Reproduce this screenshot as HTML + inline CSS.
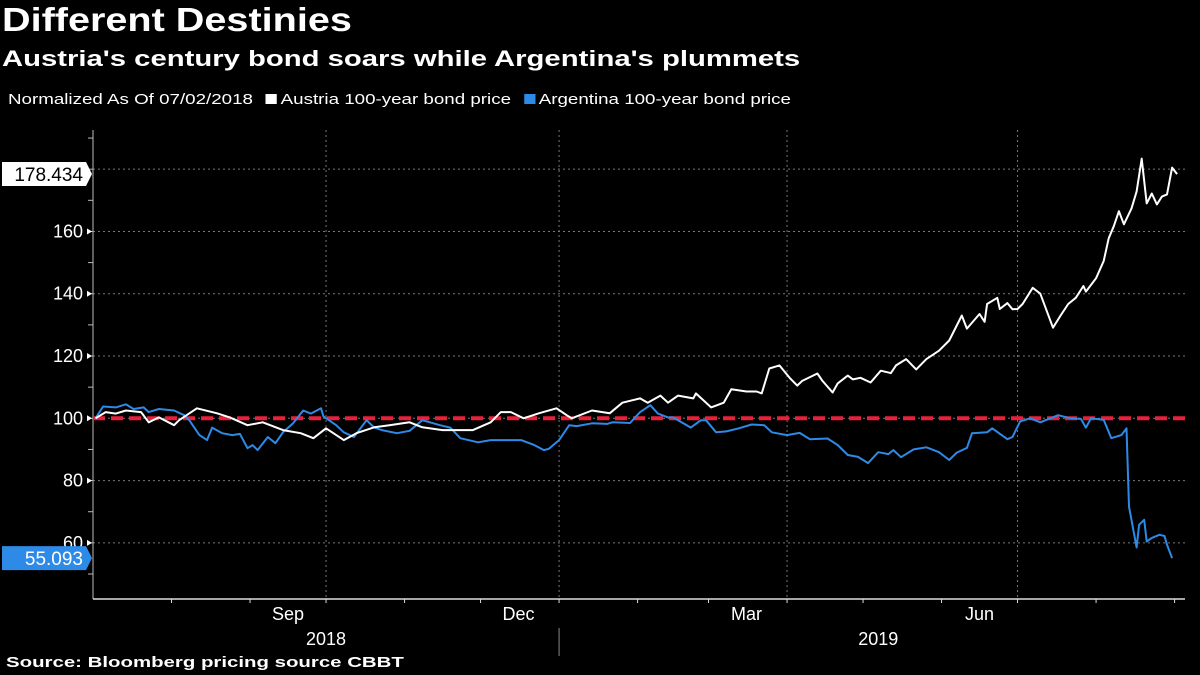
<!DOCTYPE html>
<html><head><meta charset="utf-8">
<style>
html,body{margin:0;padding:0;background:#000;}
body{width:1200px;height:675px;overflow:hidden;font-family:"Liberation Sans",sans-serif;color:#fff;position:relative;}
.t{position:absolute;white-space:nowrap;transform-origin:0 0;}
</style></head>
<body>
<div class="t" style="left:2px;top:1px;font-size:33px;font-weight:bold;transform:scaleX(1.2);">Different Destinies</div>
<div class="t" style="left:2px;top:46px;font-size:22px;font-weight:bold;transform:scaleX(1.33);">Austria's century bond soars while Argentina's plummets</div>
<div class="t" style="left:8px;top:91px;font-size:15px;transform:scaleX(1.25);">
<span>Normalized As Of 07/02/2018</span>
<span style="margin-left:6px;"><span style="display:inline-block;width:9px;height:10px;background:#fff;margin-right:3px;"></span>Austria 100-year bond price</span>
<span style="margin-left:6px;"><span style="display:inline-block;width:9px;height:10px;background:#2d8ae6;margin-right:3px;"></span>Argentina 100-year bond price</span>
</div>
<svg id="chart" width="1200" height="675" style="position:absolute;left:0;top:0;" xmlns="http://www.w3.org/2000/svg"></svg>
<div class="t" style="left:6px;top:654px;font-size:15px;font-weight:bold;transform:scaleX(1.36);">Source: Bloomberg pricing source CBBT</div>
<script>
// days since 2018-07-01
const austriaDays=[1,5,9,13,19,22,26,32,34,41,49,54,61,67,75,82,87,92,99,104,111,117,125,130,138,145,150,157,161,165,170,176,183,187,189,197,204,209,216,219,224,227,231,237,238,244,249,252,258,262,264,267,271,275,278,280,286,288,292,294,298,300,303,307,311,315,317,321,325,329,334,338,343,345,350,352,353,357,358,361,363,365,367,371,374,379,382,385,388,391,392,396,399,401,403,405,407,410,412,414,416,418,420,422,424,426,428];
const austriaVals=[100,102,101.5,102.5,102,98.7,100.3,97.8,99.4,103.2,101.6,100.3,97.8,98.7,96.2,95.2,93.6,96.8,93,95.2,97.1,97.8,98.7,97.1,96.2,96.2,96.2,98.7,102,102,100,101.6,103.2,101,100,102.5,101.6,105,106.4,105,107.3,105,107.3,106.4,108,103.5,105,109.3,108.6,108.6,108,116,117,113,110.5,112,114.4,112,108.3,111.2,113.7,112.5,113,111.5,115.3,114.5,117,119,115.7,119,121.7,125,133,128.8,133.5,131,136.7,138.7,135.1,137,135,135.1,136.7,141.9,140,129.1,133,136.7,138.7,142.5,140.7,145,150.5,157.8,161.7,166.5,162.3,167.4,172.8,183.4,169,172.2,168.7,171.2,171.9,180.5,178.434];
const argDays=[1,4,9,13,16,20,22,26,32,36,38,42,45,47,51,55,58,61,63,65,69,72,75,79,83,86,90,91,96,99,103,108,111,114,120,125,130,137,141,145,152,157,163,169,174,178,180,184,188,191,197,203,205,212,216,220,223,227,229,236,240,242,246,250,255,260,265,268,274,279,283,290,294,298,302,306,310,314,316,319,324,329,334,338,341,345,347,353,355,361,363,366,370,374,381,386,390,392,394,399,402,406,408,409,412,413,415,416,418,421,423,424,426,428];
const argVals=[100,103.8,103.5,104.5,103,103.5,102,103,102.5,101,99.4,94.6,93,97,95.2,94.6,95,90.4,91.4,89.8,94,92,95.5,98.4,102.5,101.5,103.2,100.6,97.8,95.5,94,99.4,97,96.2,95.2,96,99.4,97.8,97,93.6,92.3,93,93,93,91.5,89.8,90.2,93,97.8,97.5,98.4,98.2,98.7,98.5,102,104.2,101.5,100.3,100.3,97,99.4,99.4,95.5,95.8,96.8,98,97.8,95.5,94.6,95.3,93.3,93.5,91.4,88.2,87.6,85.6,89.1,88.5,89.8,87.5,90,90.7,89.1,86.6,89,90.5,95.2,95.5,96.8,93.3,94,99,100,98.7,101,100,99.8,97,100,99.5,93.6,94.6,96.8,71.6,58.5,65.8,67.4,60.4,61.6,62.6,62.2,59.4,55.093];
const yTicks=[60,80,100,120,140,160];
const gridVals=[60,80,100,120,140,160,180];
const monthStarts=[31,62,92,123,153,184,215,243,274,304,335,365,396,427];
const gridDays=[92,184,274,365];
const monthLabels=["Sep","Dec","Mar","Jun"];
const monthLabelDays=[77,168,258,350];
const yearLabels=["2018","2019"];
const yearLabelDays=[92,310];

const NS="http://www.w3.org/2000/svg";
const svg=document.getElementById('chart');
const X0=93, PXD=2.533, Y100=418.3, PXV=3.114, TOP=130, BOT=599, RIGHT=1185;
function xs(d){return X0+d*PXD;}
function ys(v){return Y100-(v-100)*PXV;}
function mk(tag,attrs){const e=document.createElementNS(NS,tag);for(const k in attrs)e.setAttribute(k,attrs[k]);svg.appendChild(e);return e;}

gridVals.forEach(v=>{
  const g=mk('line',{x1:X0,x2:RIGHT,y1:ys(v),y2:ys(v),stroke:'#777','stroke-width':1,'stroke-dasharray':'2,3'});
  
  
});
gridDays.forEach(d=>{
  const g=mk('line',{x1:xs(d),x2:xs(d),y1:TOP,y2:BOT,stroke:'#777','stroke-width':1,'stroke-dasharray':'2,3'});
  
  
});
const ya=mk('line',{x1:X0,x2:X0,y1:TOP,y2:BOT,stroke:'#bbb','stroke-width':1});


const xa=mk('line',{x1:X0,x2:RIGHT,y1:BOT,y2:BOT,stroke:'#ddd','stroke-width':1.5});


for(let v=50;v<=190;v+=10){
  const t=mk('line',{x1:X0-5,x2:X0,y1:ys(v),y2:ys(v),stroke:'#bbb','stroke-width':1});
  
  
}
yTicks.forEach(v=>{
  const p=mk('polygon',{points:`${X0-1},${ys(v)} ${X0-6},${ys(v)-3} ${X0-6},${ys(v)+3}`,fill:'#fff'});
  
  
  const t=mk('text',{x:X0-10,y:ys(v)+6,fill:'#fff','font-size':18,'text-anchor':'end','font-family':'Liberation Sans, sans-serif'});
  t.textContent=v;
  
  
});
monthStarts.forEach(d=>{
  const t=mk('line',{x1:xs(d),x2:xs(d),y1:BOT,y2:BOT+4,stroke:'#ddd','stroke-width':1});
  
  
});
monthLabels.forEach((m,i)=>{
  const t=mk('text',{x:xs(monthLabelDays[i]),y:620,fill:'#fff','font-size':18,'text-anchor':'middle','font-family':'Liberation Sans, sans-serif'});
  t.textContent=m;
  
  
});
yearLabels.forEach((m,i)=>{
  const t=mk('text',{x:xs(yearLabelDays[i]),y:645,fill:'#fff','font-size':18,'text-anchor':'middle','font-family':'Liberation Sans, sans-serif'});
  t.textContent=m;
  
  
});
const yd=mk('line',{x1:xs(184),x2:xs(184),y1:628,y2:656,stroke:'#888','stroke-width':1});



const ref=mk('line',{x1:X0,x2:RIGHT,y1:ys(100),y2:ys(100),stroke:'#e8203a','stroke-width':4,'stroke-dasharray':'12,6'});



function path(days,vals){return days.map((d,i)=>(i?'L':'M')+xs(d).toFixed(1)+','+ys(vals[i]).toFixed(1)).join(' ');}
const la=mk('path',{d:path(argDays,argVals),fill:'none',stroke:'#2d8ae6','stroke-width':2,'stroke-linejoin':'round'});


const lw=mk('path',{d:path(austriaDays,austriaVals),fill:'none',stroke:'#fff','stroke-width':2,'stroke-linejoin':'round'});



function tag(v,bg,fg,name){
  const y=ys(v);
  const p=mk('polygon',{points:`2,${y-12} 86,${y-12} 92,${y} 86,${y+12} 2,${y+12}`,fill:bg});
  
  
  const t=mk('text',{x:83,y:y+7,fill:fg,'font-size':19,'text-anchor':'end','font-family':'Liberation Sans, sans-serif'});
  t.textContent=v.toFixed(3);
  
  
}
tag(austriaVals[austriaVals.length-1],'#fff','#000','austria-last-value');
tag(argVals[argVals.length-1],'#2d8ae6','#fff','argentina-last-value');
</script>
</body></html>
